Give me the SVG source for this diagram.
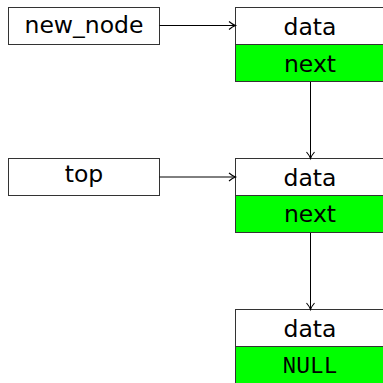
<svg xmlns="http://www.w3.org/2000/svg" width="383" height="383" viewBox="0 0 383 383">
<style>
.box{fill:#fff;stroke:#333;stroke-width:1}
.g{fill:#00ff00;stroke:#333;stroke-width:1}
.t{font-family:"DejaVu Sans",sans-serif;font-size:23.5px;fill:#000;text-anchor:middle}
.m{font-family:"Liberation Mono","DejaVu Sans Mono",monospace;font-size:23px;fill:#000;text-anchor:middle}
.c{fill:none;stroke:#000;stroke-width:1}
</style>
<defs>
<marker id="ah" markerWidth="10" markerHeight="10" refX="7" refY="5" orient="auto" markerUnits="userSpaceOnUse">
<path d="M1,1 Q4.5,4 7.5,5 Q4.5,6 1,9" fill="none" stroke="#000" stroke-width="1.1"/>
</marker>
</defs>
<g id="new_node">
<rect class="box" x="8.5" y="7.5" width="151" height="37"/>
<text class="t" x="84" y="33">new_node</text>
</g>
<g id="top">
<rect class="box" x="8.5" y="158.5" width="151" height="37"/>
<text class="t" x="84" y="182">top</text>
</g>
<g id="node1">
<rect class="box" x="235.5" y="7.5" width="151" height="37"/>
<text class="t" x="310" y="35">data</text>
<rect class="g" x="235.5" y="44.5" width="151" height="37"/>
<text class="t" x="310" y="72">next</text>
</g>
<g id="node2">
<rect class="box" x="235.5" y="158.5" width="151" height="37"/>
<text class="t" x="310" y="186">data</text>
<rect class="g" x="235.5" y="195.5" width="151" height="37"/>
<text class="t" x="310" y="222">next</text>
</g>
<g id="node3">
<rect class="box" x="235.5" y="309.5" width="151" height="37"/>
<text class="t" x="310" y="337">data</text>
<rect class="g" x="235.5" y="346.5" width="151" height="37"/>
<text class="m" x="310" y="373">NULL</text>
</g>
<g id="connectors">
<line class="c" x1="159.5" y1="25.5" x2="235" y2="25.5" marker-end="url(#ah)"/>
<line class="c" x1="159.5" y1="177" x2="235" y2="177" marker-end="url(#ah)"/>
<line class="c" x1="310.5" y1="82" x2="310.5" y2="158" marker-end="url(#ah)"/>
<line class="c" x1="310.5" y1="233" x2="310.5" y2="309" marker-end="url(#ah)"/>
</g>
</svg>
